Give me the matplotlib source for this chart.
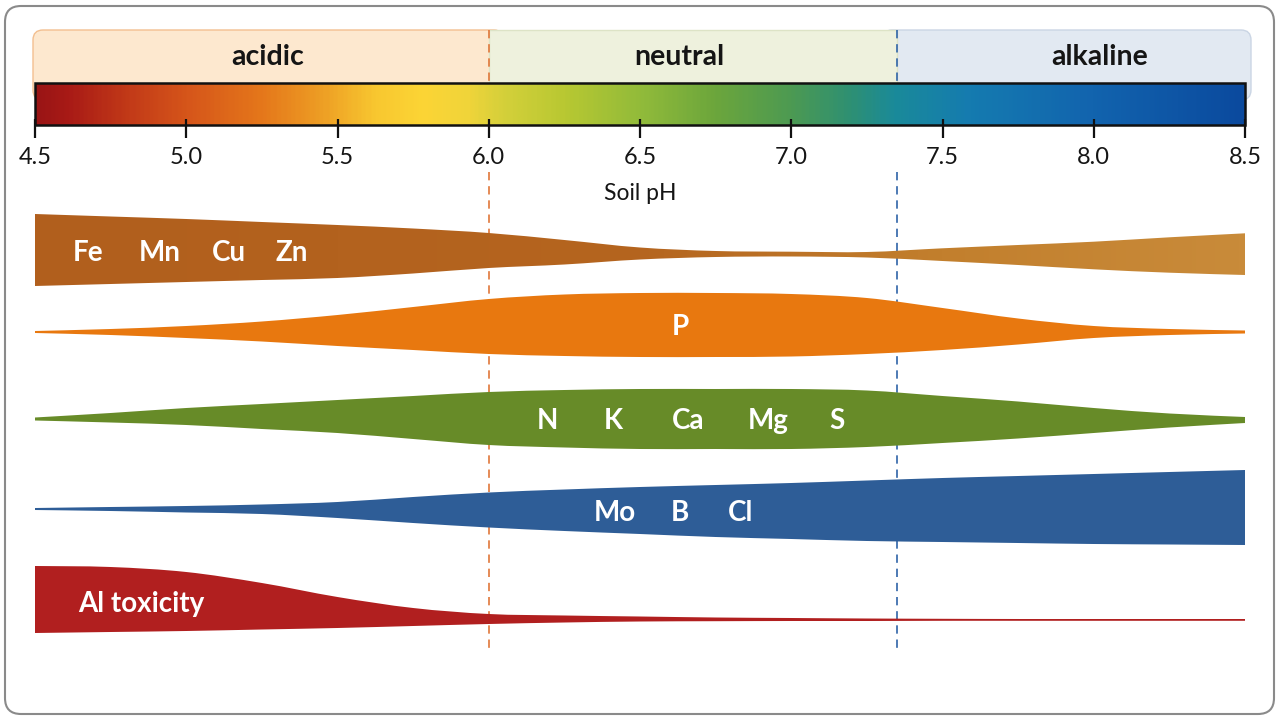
import numpy as np
import matplotlib
matplotlib.use("Agg")
import matplotlib.pyplot as plt
from matplotlib.path import Path
from matplotlib.patches import PathPatch, FancyBboxPatch, Rectangle
from matplotlib.colors import LinearSegmentedColormap
from matplotlib.transforms import IdentityTransform

plt.rcParams['font.family'] = ['Lato', 'DejaVu Sans']

# ---------------- data ----------------
ph = [4.5, 4.75, 5.0, 5.25, 5.5, 5.75, 6.0, 6.25, 6.5, 6.75, 7.0, 7.25, 7.5, 7.75, 8.0, 8.25, 8.5]

# relative availability (band half-thickness above / below its centre line)
fe_upper = [38, 35.5, 33, 30, 27, 23.5, 19, 12, 4.5, 1.0, 0.3, 0.0, 3.7, 7.0, 10.3, 14.7, 18.7]
fe_lower = [34, 32, 30, 28, 26, 21.5, 16, 12.5, 7.5, 5.0, 4.5, 5.5, 9.0, 13.0, 17.3, 20.7, 23.0]
p_upper = [1, 3, 6, 10.5, 17, 25, 33, 37.5, 39, 39, 38, 34, 24, 13.5, 6, 3, 1.5]
p_lower = [1, 3, 6, 9.5, 14, 18, 22, 24, 25, 25, 24.5, 22, 18, 12.5, 6, 3, 1.5]
n_upper = [1.5, 6, 11, 15, 19, 23, 27, 29, 30, 30, 30, 28.5, 23, 17.5, 11, 5.5, 2]
n_lower = [1.5, 3.5, 6, 10, 14, 20, 26, 28.5, 30, 30, 30, 28, 24, 19.5, 14, 8.5, 4]
mo_upper = [1, 2, 3, 4.5, 7, 12, 16.5, 19.5, 22, 24, 26, 28.5, 31, 33, 35, 37, 39]
mo_lower = [1, 2, 3.5, 5, 9, 14, 18.5, 22, 25, 28, 30, 32, 33, 34, 35, 35.5, 36]
al_upper = [54, 53, 48, 37, 23, 12, 6, 4.5, 3.5, 2.5, 2, 1.5, 1.2, 1, 1, 1, 1]
al_lower = [13, 12, 11, 9.5, 8, 6, 4, 2.5, 1.5, 1.2, 1, 1, 0.8, 0.8, 0.8, 0.8, 0.8]

zone_names = ['acidic', 'neutral', 'alkaline']
zone_edges = [4.5, 6.0, 7.35, 8.5]

tick_values = [4.5, 5.0, 5.5, 6.0, 6.5, 7.0, 7.5, 8.0, 8.5]
tick_labels = ['4.5', '5.0', '5.5', '6.0', '6.5', '7.0', '7.5', '8.0', '8.5']

cbar_ph = [4.5, 4.6, 4.8, 5.0, 5.25, 5.45, 5.62, 5.78, 5.93, 6.05, 6.25, 6.5, 6.75, 7.0, 7.2,
           7.35, 7.6, 8.0, 8.5]
cbar_colors = ['#9a1515', '#a81a16', '#c23a18', '#d6561a', '#e5781b', '#eea025', '#f8c730',
               '#fcd535', '#f0d43a', '#d4d03a', '#b8c832', '#92bb3a', '#6ca63c', '#4d9a52',
               '#2e9073', '#1a8a9a', '#157bb0', '#1264ae', '#0b4a9e']

# ---------------- layout / style ----------------
W, H = 1280, 720
X0, X1 = 35, 1245                      # pixel columns of pH 4.5 and 8.5
k = (8.5 - 4.5) / (X1 - X0)
XL, XR = 4.5 - X0 * k, 8.5 + (W - X1) * k

fig = plt.figure(figsize=(12.8, 7.2), dpi=100, facecolor='white')
ax = fig.add_axes([0, 0, 1, 1])
ax.set_xlim(XL, XR)
ax.set_ylim(H, 0)
ax.axis('off')

def px(xp):
    return XL + xp * k

# outer frame
frame = FancyBboxPatch((5, 6), 1269, 708, boxstyle="round,pad=0,rounding_size=16",
                       transform=IdentityTransform(), facecolor='none',
                       edgecolor='#8a8a8a', lw=1.5, zorder=10)
ax.add_artist(frame)

# zone header boxes
ZT, ZB = 30, 100
zone_fc = ['#fde8cf', '#eef1dd', '#e2e9f2']
zone_ec = ['#f3bf90', '#dde3c6', '#cad5e4']
asp = 1.0 / k
rad = 10 * k
ax.add_patch(FancyBboxPatch((px(33), ZT), zone_edges[1] + 0.05 - px(33), ZB - ZT,
                            boxstyle=f"round,pad=0,rounding_size={rad}", mutation_aspect=asp,
                            facecolor=zone_fc[0], edgecolor=zone_ec[0], lw=1.0, zorder=1))
ax.add_patch(FancyBboxPatch((zone_edges[2] - 0.05, ZT), px(1251) - zone_edges[2] + 0.05, ZB - ZT,
                            boxstyle=f"round,pad=0,rounding_size={rad}", mutation_aspect=asp,
                            facecolor=zone_fc[2], edgecolor=zone_ec[2], lw=1.0, zorder=1))
ax.add_patch(Rectangle((zone_edges[1], ZT), zone_edges[2] - zone_edges[1], ZB - ZT,
                       facecolor=zone_fc[1], edgecolor=zone_ec[1], lw=1.0, zorder=1.5))

zone_text_x = [5.27, 6.63, 8.02]
for name, xt in zip(zone_names, zone_text_x):
    ax.text(xt, 57, name, ha='center', va='center', fontsize=20.5, fontweight='bold',
            color='#151515', zorder=5)

# colour bar
CB_T, CB_B = 83, 125
cmap = LinearSegmentedColormap.from_list(
    'ph', [((v - 4.5) / 4.0, c) for v, c in zip(cbar_ph, cbar_colors)])
grad = np.linspace(4.5, 8.5, 600)[None, :]
ax.imshow(grad, extent=(4.5, 8.5, CB_B, CB_T), aspect='auto', cmap=cmap,
          vmin=4.5, vmax=8.5, interpolation='bilinear', zorder=3)
ax.add_patch(Rectangle((4.5, CB_T), 4.0, CB_B - CB_T, facecolor='none',
                       edgecolor='#111111', lw=1.8, zorder=4))
ax.vlines(tick_values, 119, 138, color='#111111', lw=1.6, zorder=4)
for v, lab in zip(tick_values, tick_labels):
    ax.text(v, 157, lab, ha='center', va='center', fontsize=17, color='#151515', zorder=5)
ax.text(6.5, 194, 'Soil pH', ha='center', va='center', fontsize=16.5, color='#151515', zorder=5)

# zone boundary dashed lines
for xb, col in [(zone_edges[1], '#e0773a'), (zone_edges[2], '#2f64a8')]:
    for y0, y1 in [(ZT, CB_T), (172, 653)]:
        ax.plot([xb, xb], [y0, y1], color=col, lw=1.2, ls=(0, (5, 3.5)), zorder=2)

# ---------------- smooth bands ----------------
def bezier_through(xs, ys):
    xs = np.asarray(xs, float); ys = np.asarray(ys, float)
    n = len(xs)
    verts, codes = [], []
    for i in range(n - 1):
        i0, i3 = max(i - 1, 0), min(i + 2, n - 1)
        c1 = (xs[i] + (xs[i + 1] - xs[i0]) / 6, ys[i] + (ys[i + 1] - ys[i0]) / 6)
        c2 = (xs[i + 1] - (xs[i3] - xs[i]) / 6, ys[i + 1] - (ys[i3] - ys[i]) / 6)
        verts += [c1, c2, (xs[i + 1], ys[i + 1])]
        codes += [Path.CURVE4] * 3
    return verts, codes

def band_path(x, centre, up, lo):
    x = np.asarray(x, float)
    top = centre - np.asarray(up, float)
    bot = centre + np.asarray(lo, float)
    verts = [(x[0], top[0])]; codes = [Path.MOVETO]
    v, c = bezier_through(x, top); verts += v; codes += c
    verts.append((x[-1], bot[-1])); codes.append(Path.LINETO)
    v, c = bezier_through(x[::-1], bot[::-1]); verts += v; codes += c
    verts.append((x[0], top[0])); codes.append(Path.CLOSEPOLY)
    return Path(verts, codes)

bands = [
    ('fe', 252, fe_upper, fe_lower, None),
    ('p', 332, p_upper, p_lower, '#e8780f'),
    ('n', 419, n_upper, n_lower, '#678b28'),
    ('mo', 509, mo_upper, mo_lower, '#2e5d97'),
    ('al', 620, al_upper, al_lower, '#b11f1f'),
]
for name, c0, up, lo, col in bands:
    path = band_path(ph, c0, up, lo)
    if col is None:
        patch = PathPatch(path, facecolor='none', edgecolor='none', transform=ax.transData)
        ax.add_patch(patch)
        fe_cmap = LinearSegmentedColormap.from_list(
            'fe', [(0.0, '#b15f1d'), (0.5, '#b5651f'), (0.75, '#c27f2d'), (1.0, '#c98b3a')])
        im = ax.imshow(np.linspace(0, 1, 400)[None, :], extent=(4.5, 8.5, 300, 200),
                       aspect='auto', cmap=fe_cmap, interpolation='bilinear', zorder=3)
        im.set_clip_path(patch)
    else:
        ax.add_patch(PathPatch(path, facecolor=col, edgecolor='none', lw=0, zorder=3))

# band labels
lab_kw = dict(ha='center', va='center', fontsize=20, fontweight='bold', color='white', zorder=6)
for t, xv in zip(['Fe', 'Mn', 'Cu', 'Zn'], [4.675, 4.913, 5.141, 5.35]):
    ax.text(xv, 253, t, **lab_kw)
ax.text(6.632, 327, 'P', **lab_kw)
for t, xv in zip(['N', 'K', 'Ca', 'Mg', 'S'], [6.193, 6.41, 6.659, 6.923, 7.151]):
    ax.text(xv, 421, t, **lab_kw)
for t, xv in zip(['Mo', 'B', 'Cl'], [6.417, 6.632, 6.834]):
    ax.text(xv, 513, t, **lab_kw)
ax.text(4.642, 604, 'Al toxicity', **{**lab_kw, 'ha': 'left'})

fig.savefig('out.png', dpi=100, facecolor='white')
